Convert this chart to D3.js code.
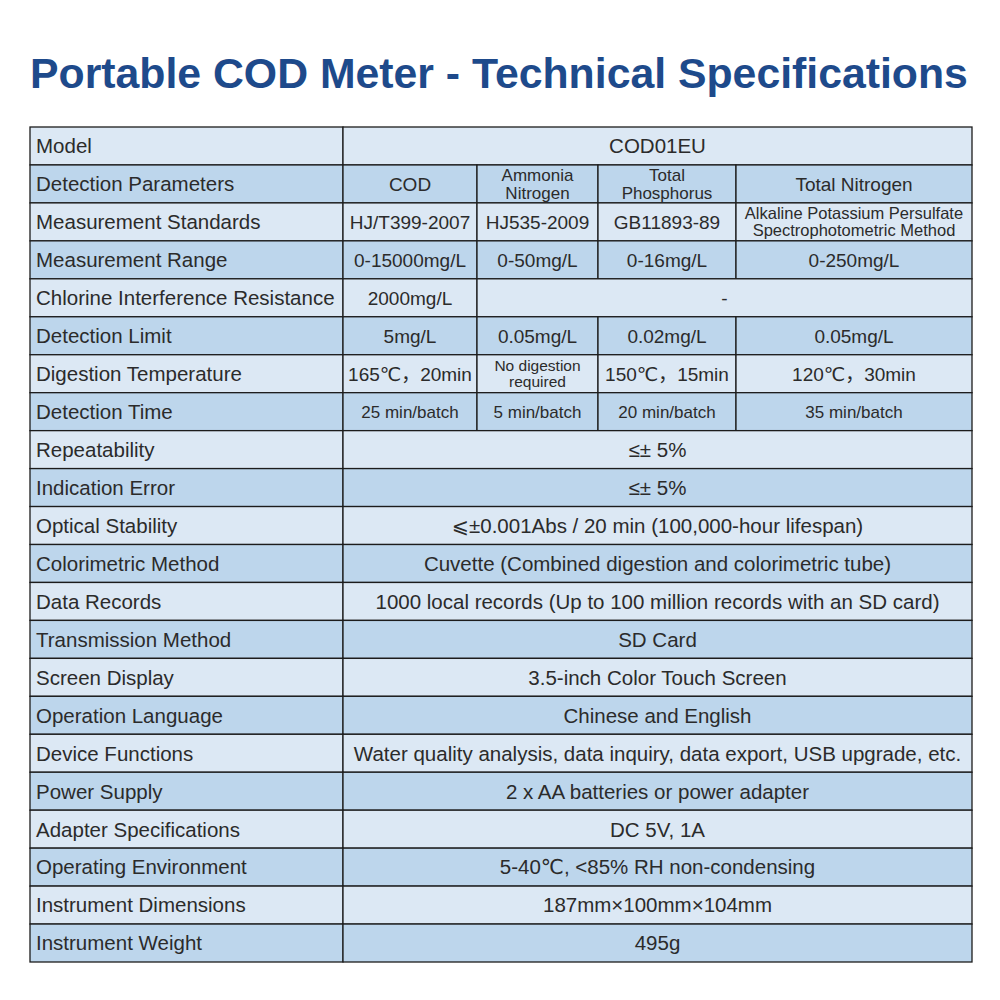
<!DOCTYPE html>
<html>
<head>
<meta charset="utf-8">
<script src="https://cdn.jsdelivr.net/npm/d3@7/dist/d3.min.js"></script>
<style>
  body { margin: 0; background: #fff; }
  svg { display: block; }
  .title { font-family: "Liberation Sans", Arial, sans-serif; font-weight: bold; fill: #1e4a8b; }
  .cell text { font-family: "Liberation Sans", Arial, "DejaVu Sans", "Noto Sans CJK SC", sans-serif; fill: #2b2b2b; }
</style>
</head>
<body>
<script>
(function () {

    //table data
    var titleText = "Portable COD Meter - Technical Specifications";

    var rowLabels = [
        "Model", "Detection Parameters", "Measurement Standards", "Measurement Range",
        "Chlorine Interference Resistance", "Detection Limit", "Digestion Temperature",
        "Detection Time", "Repeatability", "Indication Error", "Optical Stability",
        "Colorimetric Method", "Data Records", "Transmission Method", "Screen Display",
        "Operation Language", "Device Functions", "Power Supply", "Adapter Specifications",
        "Operating Environment", "Instrument Dimensions", "Instrument Weight"
    ];

    var rowValues = [
        ["COD01EU"],
        ["COD", "Ammonia\nNitrogen", "Total\nPhosphorus", "Total Nitrogen"],
        ["HJ/T399-2007", "HJ535-2009", "GB11893-89", "Alkaline Potassium Persulfate\nSpectrophotometric Method"],
        ["0-15000mg/L", "0-50mg/L", "0-16mg/L", "0-250mg/L"],
        ["2000mg/L", "-"],
        ["5mg/L", "0.05mg/L", "0.02mg/L", "0.05mg/L"],
        ["165\u2103\uff0c20min", "No digestion\nrequired", "150\u2103\uff0c15min", "120\u2103\uff0c30min"],
        ["25 min/batch", "5 min/batch", "20 min/batch", "35 min/batch"],
        ["\u2264\u00b1 5%"],
        ["\u2264\u00b1 5%"],
        ["\u2a7d\u00b10.001Abs / 20 min (100,000-hour lifespan)"],
        ["Cuvette (Combined digestion and colorimetric tube)"],
        ["1000 local records (Up to 100 million records with an SD card)"],
        ["SD Card"],
        ["3.5-inch Color Touch Screen"],
        ["Chinese and English"],
        ["Water quality analysis, data inquiry, data export, USB upgrade, etc."],
        ["2 x AA batteries or power adapter"],
        ["DC 5V, 1A"],
        ["5-40\u2103, <85% RH non-condensing"],
        ["187mm\u00d7100mm\u00d7104mm"],
        ["495g"]
    ];

    //how many sub columns each value covers
    var rowSpans = [
        [4], [1, 1, 1, 1], [1, 1, 1, 1], [1, 1, 1, 1], [1, 3], [1, 1, 1, 1], [1, 1, 1, 1], [1, 1, 1, 1],
        [4], [4], [4], [4], [4], [4], [4], [4], [4], [4], [4], [4], [4], [4]
    ];

    //layout
    var width = 1000, height = 1000,
        tableLeft = 30, tableRight = 972, tableTop = 127, tableBottom = 962,
        labelColRight = 343,
        subColWidths = [134, 121, 138, 236];

    var svg = d3.select("body")
        .append("svg")
        .attr("width", width)
        .attr("height", height);

    //title, stretched to the table width
    var title = svg.append("text")
        .attr("class", "title")
        .attr("x", tableLeft)
        .attr("y", 88)
        .style("font-size", "40px")
        .text(titleText);
    var tw = title.node().getComputedTextLength();
    title.style("font-size", (40 * (938 / tw)) + "px");

    var yScale = d3.scaleBand()
        .domain(d3.range(rowLabels.length))
        .range([tableTop, tableBottom]);

    //sub column edges
    var edges = [labelColRight];
    subColWidths.forEach(function (w) { edges.push(edges[edges.length - 1] + w); });
    edges[edges.length - 1] = tableRight;

    //build one record per cell
    var cells = [];
    rowLabels.forEach(function (label, i) {
        cells.push({ row: i, x0: tableLeft, x1: labelColRight, text: label, anchor: "start", size: 20.5 });
        var c = 0;
        rowValues[i].forEach(function (v, j) {
            var span = rowSpans[i][j];
            var size = span == 4 ? 20.5 : 19;
            if (i == 7) size = 17;
            if (v.indexOf("\n") >= 0) size = (i == 1) ? 17 : 15.5;
            if (i == 2 && j == 3) size = 16.5;
            cells.push({ row: i, x0: edges[c], x1: edges[c + span], text: v, anchor: "middle", size: size });
            c += span;
        });
    });

    var cell = svg.selectAll(".cell")
        .data(cells)
        .enter()
        .append("g")
        .attr("class", "cell");

    cell.append("rect")
        .attr("x", function (d) { return d.x0; })
        .attr("y", function (d) { return yScale(d.row); })
        .attr("width", function (d) { return d.x1 - d.x0; })
        .attr("height", yScale.bandwidth())
        .style("fill", function (d) { return d.row % 2 ? "#bdd6ec" : "#dce8f4"; })
        .style("stroke", "#1c1c1c")
        .style("stroke-width", 1.3);

    cell.append("text")
        .attr("text-anchor", function (d) { return d.anchor; })
        .style("font-size", function (d) { return d.size + "px"; })
        .each(function (d) {
            var lines = d.text.split("\n");
            var t = d3.select(this);
            var cx = d.anchor == "start" ? d.x0 + 6 : (d.x0 + d.x1) / 2;
            var cy = yScale(d.row) + yScale.bandwidth() / 2;
            var lh = d.size * 1.02;
            lines.forEach(function (line, k) {
                t.append("tspan")
                    .attr("x", cx)
                    .attr("y", cy + (k - (lines.length - 1) / 2) * lh)
                    .attr("dy", "0.36em")
                    .text(line);
            });
        });

})();
</script>
</body>
</html>
